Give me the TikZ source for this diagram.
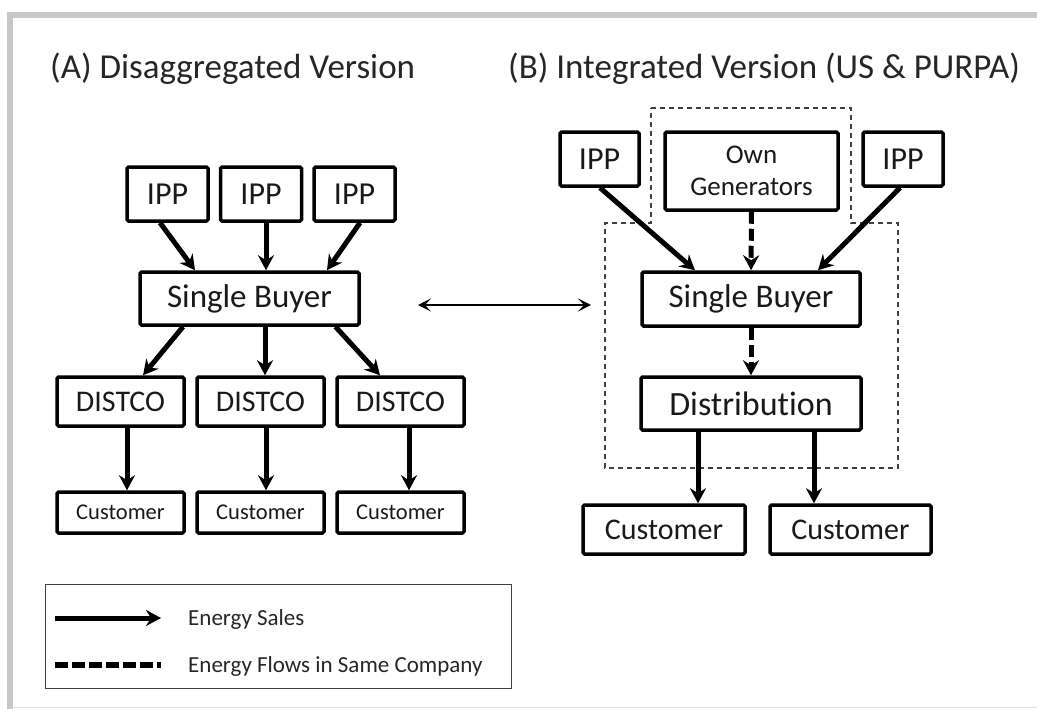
\documentclass[tikz,border=0pt]{standalone}
\usepackage{fontspec}
\setmainfont{Carlito}[Ligatures=NoCommon]
\usetikzlibrary{arrows.meta}
\tikzset{
  box/.style={draw, line width=3.5pt, rounded corners=1.5pt, inner sep=0pt, align=center, text=black!90},
  ipp/.style={box, minimum width=81pt, minimum height=54pt, font=\fontsize{32}{34}\selectfont},
  sellarrow/.style={line width=5pt, -{Stealth[length=15pt,width=16pt,inset=5pt]}},
  samearrow/.style={line width=5pt, dash pattern=on 12pt off 5pt, -{Stealth[length=15pt,width=16pt,inset=5pt]}},
  company/.style={line width=1.3pt, draw=black!75, dash pattern=on 5pt off 4pt},
}
\begin{document}
\begin{tikzpicture}[x=1pt,y=-1pt]
\useasboundingbox (0,0) rectangle (1037,709);
% frame
\draw[line width=6pt, draw=black!22] (9.5,709) -- (9.5,15) -- (1037,15);
\draw[line width=1.5pt, draw=black!12] (12,707.5) -- (1037,707.5);

% titles
\node[anchor=base west, inner sep=0pt, font=\fontsize{35}{37}\selectfont, text=black!85] (titA) at (50,78) {(A) Disaggregated Version};
\node[anchor=base west, inner sep=0pt, font=\fontsize{35}{37}\selectfont, text=black!85] (titB) at (508,78) {(B) Integrated Version (US \& PURPA)};

% ---------- A ----------
\node[ipp] (ia1) at (167.5,194) {IPP};
\node[ipp] (ia2) at (261,194) {IPP};
\node[ipp] (ia3) at (354.5,194) {IPP};
\node[box, minimum width=219pt, minimum height=53pt, font=\fontsize{33}{35}\selectfont] (sba) at (249.5,298.5) {Single Buyer};
\foreach \i/\x in {1/120.5,2/260.5,3/400.5}{
  \node[box, minimum width=127pt, minimum height=49pt, font=\fontsize{30}{32}\selectfont] (d\i) at (\x,401.5) {DISTCO};
  \node[box, minimum width=127pt, minimum height=41pt, font=\fontsize{22.5}{24}\selectfont] (c\i) at (\x,512.5) {Customer};
}
\draw[sellarrow] ([xshift=-7.5pt]ia1.south) -- ([xshift=-54.5pt]sba.north);
\draw[sellarrow] ([xshift=5pt]ia2.south) -- ([xshift=16.5pt]sba.north);
\draw[sellarrow] ([xshift=5.5pt]ia3.south) -- ([xshift=77.5pt]sba.north);
\draw[sellarrow] ([xshift=-66.5pt]sba.south) -- ([xshift=22.5pt]d1.north);
\draw[sellarrow] ([xshift=15.5pt]sba.south) -- ([xshift=4.5pt]d2.north);
\draw[sellarrow] ([xshift=86pt]sba.south) -- ([xshift=-20.5pt]d3.north);
\draw[sellarrow] ([xshift=6.5pt]d1.south) -- ([xshift=6.5pt]c1.north);
\draw[sellarrow] ([xshift=5.5pt]d2.south) -- ([xshift=5.5pt]c2.north);
\draw[sellarrow] ([xshift=8.5pt]d3.south) -- ([xshift=8.5pt]c3.north);

% link arrow
\coordinate (la) at (418,305);
\coordinate (lb) at (591,305);
\draw[line width=1.5pt, {Stealth[length=13pt,width=13pt,inset=6pt]}-{Stealth[length=13pt,width=13pt,inset=6pt]}] (la) -- (lb);

% ---------- B ----------
\draw[company] (651,108) -- (851,108) -- (851,223) -- (898,223) -- (898,468) -- (605,468) -- (605,223) -- (651,223) -- cycle;
\node[ipp, minimum width=79pt] (ibl) at (599.5,159) {IPP};
\node[ipp, minimum width=80pt] (ibr) at (903,159) {IPP};
\node[box, minimum width=173pt, minimum height=78pt, font=\fontsize{27}{32}\selectfont] (own) at (751.5,171) {Own\\Generators};
\node[box, minimum width=218pt, minimum height=54pt, font=\fontsize{33}{35}\selectfont] (sbb) at (751,299) {Single Buyer};
\node[box, minimum width=220pt, minimum height=53pt, font=\fontsize{34}{36}\selectfont] (dist) at (751,403.5) {Distribution};
\node[box, minimum width=162pt, minimum height=49pt, font=\fontsize{30}{32}\selectfont] (cb1) at (664,529.5) {Customer};
\node[box, minimum width=161pt, minimum height=49pt, font=\fontsize{30}{32}\selectfont] (cb2) at (850.5,529.5) {Customer};
\draw[sellarrow] ([xshift=0.5pt]ibl.south) -- ([xshift=-56pt]sbb.north);
\draw[sellarrow] ([xshift=-3pt]ibr.south) -- ([xshift=67pt]sbb.north);
\draw[samearrow] (own.south) -- (sbb.north);
\draw[samearrow] (sbb.south) -- (dist.north);
\draw[sellarrow] ([xshift=-53pt]dist.south) -- ([xshift=34pt]cb1.north);
\draw[sellarrow] ([xshift=63pt]dist.south) -- ([xshift=-36.5pt]cb2.north);

% ---------- legend ----------
\node[draw=black!75, line width=1.3pt, minimum width=466pt, minimum height=104pt, inner sep=0pt] (leg) at (278.5,636.5) {};
\coordinate (l1a) at (55,618);
\coordinate (l1b) at (161,618);
\coordinate (l2a) at (55,665);
\coordinate (l2b) at (161,665);
\draw[sellarrow] (l1a) -- (l1b);
\draw[line width=5.5pt, dash pattern=on 13pt off 4pt] (l2a) -- (l2b);
\node[anchor=base west, inner sep=0pt, font=\fontsize{23}{25}\selectfont, text=black!85] (t1) at (188,625) {Energy Sales};
\node[anchor=base west, inner sep=0pt, font=\fontsize{23}{25}\selectfont, text=black!85] (t2) at (188,672) {Energy Flows in Same Company};
\end{tikzpicture}
\end{document}
